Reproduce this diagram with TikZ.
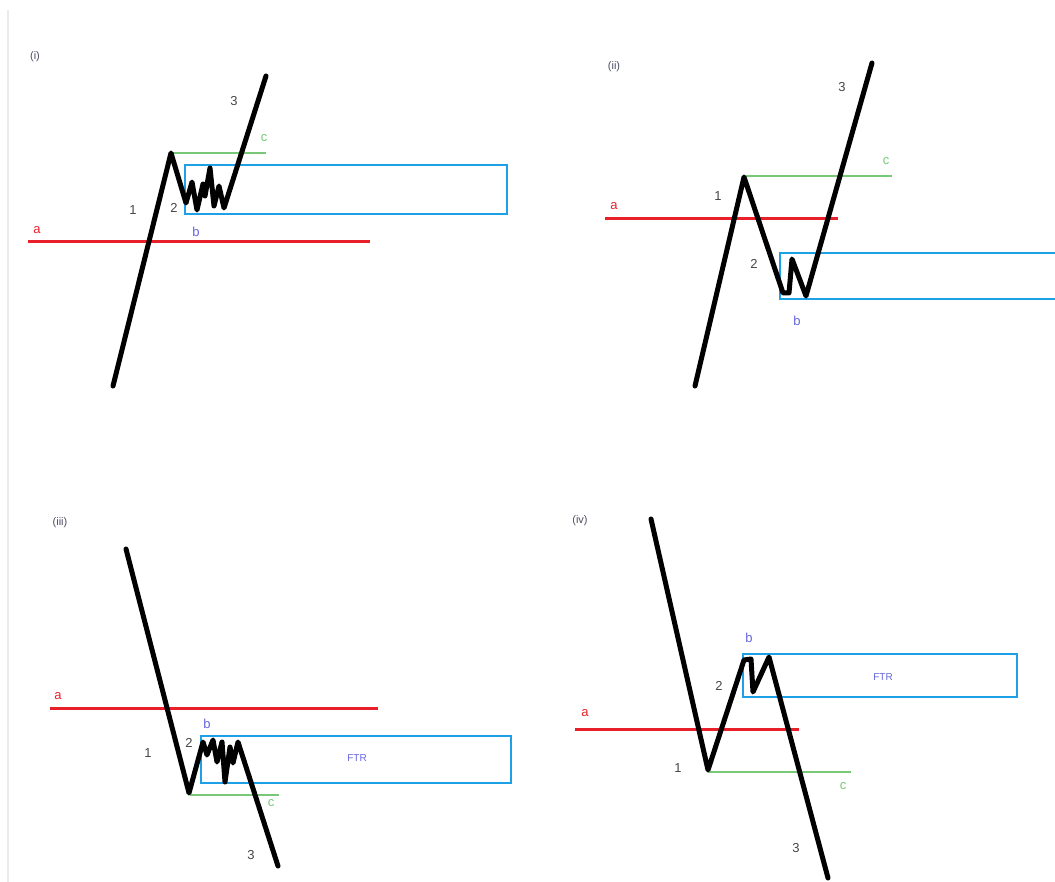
\documentclass[tikz,border=0pt]{standalone}
\usepackage{fontspec}
\setmainfont{Liberation Sans}
\usepackage{tikz}
\usetikzlibrary{positioning,calc}

\definecolor{lvlred}{RGB}{232,32,42}
\definecolor{lvlgreen}{RGB}{120,200,120}
\definecolor{lvlblue}{RGB}{30,160,230}
\definecolor{txtb}{RGB}{100,100,225}
\definecolor{txtgray}{RGB}{70,70,70}

\begin{document}
\begin{tikzpicture}[x=1pt, y=-1pt, font=\fontsize{13}{15}\selectfont,
  price/.style = {line width=5pt, line join=round, line cap=round, black},
  levela/.style = {line width=3pt, lvlred},
  levelc/.style = {line width=1.5pt, lvlgreen},
  zone/.style = {line width=2.5pt, lvlblue},
  lbl/.style = {text=txtgray, inner sep=1pt},
  lbla/.style = {text=lvlred, inner sep=1pt},
  lblb/.style = {text=txtb, inner sep=1pt},
  lblc/.style = {text=lvlgreen, inner sep=1pt},
  tag/.style = {text=txtgray!80!txtb, font=\fontsize{11}{13}\selectfont, inner sep=1pt}]

\useasboundingbox (0,0) rectangle (1055,882);
\draw[gray!15, line width=1.5pt] (8,10) -- (8,882);

% (i)
\node[tag] (t1) at (35,57) {(i)};
\draw[zone] (185,165) rectangle (507,214);
\draw[levelc] (172,153) -- (266,153);
\draw[levela] (28,242) -- (370,242);
\draw[price] (113,386) -- (171,153) -- (186,203) -- (192,182) -- (197,210) -- (203,184)
  -- (205,196) -- (210,168) -- (214,206) -- (219,186) -- (224,208) -- (266,76);
\node[lbl] (i1) at (133,210) {1};
\node[lbl] (i2) at (174,208) {2};
\node[lbl] (i3) at (234,101) {3};
\node[lbla] (ia) at (37,230) {a};
\node[lblb] (ib) at (196,232) {b};
\node[lblc] (ic) at (264,138) {c};

% (ii)
\node[tag] (t2) at (614,67) {(ii)};
\draw[zone] (780,253) rectangle (1062,299);
\draw[levelc] (744,176) -- (892,176);
\draw[levela] (605,219) -- (838,219);
\draw[price] (695,386) -- (744,177) -- (783,293) -- (789,293) -- (792,259) -- (806,296) -- (872,63);
\node[lbl] (ii1) at (718,196) {1};
\node[lbl] (ii2) at (754,264) {2};
\node[lbl] (ii3) at (842,87) {3};
\node[lbla] (iia) at (614,206) {a};
\node[lblb] (iib) at (797,321) {b};
\node[lblc] (iic) at (886,161) {c};

% (iii)
\node[tag] (t3) at (60,523) {(iii)};
\draw[zone] (201,736) rectangle (511,783);
\draw[levelc] (190,795) -- (279,795);
\draw[levela] (50,708) -- (378,708);
\draw[price] (126,549) -- (189,793) -- (203,742) -- (207,755) -- (213,740) -- (217,762)
  -- (222,742) -- (225,782) -- (230,747) -- (233,763) -- (238,742) -- (278,866);
\node[lbl] (iii1) at (148,753) {1};
\node[lbl] (iii2) at (189,743) {2};
\node[lbl] (iii3) at (251,855) {3};
\node[lbla] (iiia) at (58,696) {a};
\node[lblb] (iiib) at (207,724) {b};
\node[lblc] (iiic) at (271,803) {c};
\node[lblb, font=\fontsize{10}{12}\selectfont] (iiiz) at (357,758) {FTR};

% (iv)
\node[tag] (t4) at (580,521) {(iv)};
\draw[zone] (743,654) rectangle (1017,697);
\draw[levelc] (708,772) -- (851,772);
\draw[levela] (575,729) -- (799,729);
\draw[price] (651,519) -- (708,770) -- (744,660) -- (751,659) -- (753,692) -- (769,657) -- (828,878);
\node[lbl] (iv1) at (678,768) {1};
\node[lbl] (iv2) at (719,686) {2};
\node[lbl] (iv3) at (796,848) {3};
\node[lbla] (iva) at (585,713) {a};
\node[lblb] (ivb) at (749,638) {b};
\node[lblc] (ivc) at (843,786) {c};
\node[lblb, font=\fontsize{10}{12}\selectfont] (ivz) at (883,677) {FTR};
\end{tikzpicture}
\end{document}
